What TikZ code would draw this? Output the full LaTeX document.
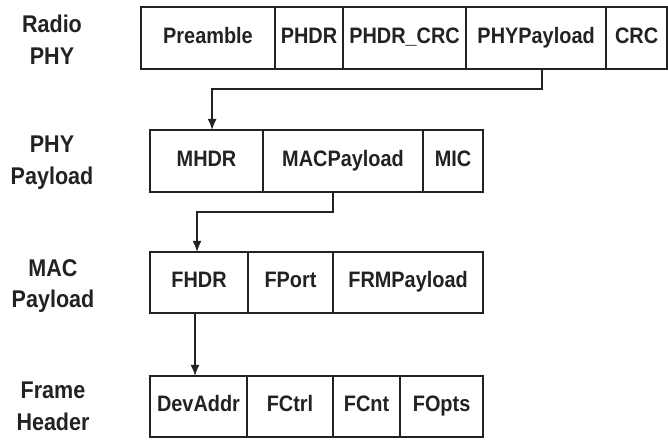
\documentclass[tikz,border=0pt]{standalone}
\usepackage{fontspec}
\setmainfont{Liberation Sans}[FakeStretch=0.89]
\usepackage{tikz}
\usetikzlibrary{arrows.meta,positioning,calc}
\definecolor{ink}{HTML}{222222}

\begin{document}
\begin{tikzpicture}[x=0.025cm, y=-0.025cm, >={Latex[length=8pt,width=6.5pt]}, ink, line width=1.2pt,
	cell/.style={draw=ink, minimum height=1.55cm, inner sep=0pt, outer sep=0pt, text=ink,
		text height=0.72em, text depth=0pt,
		font=\fontsize{15.9}{19}\selectfont\bfseries},
	layer/.style={align=center, text=ink, font=\fontsize{17.2}{22.5}\selectfont\bfseries},
	link/.style={draw=ink, line width=1.2pt, ->}]
	\useasboundingbox (0,0) rectangle (668,439);
	% radio phy frame
	\node[layer] at (52,40) (lradio) {Radio\\PHY};
	\node[cell, anchor=north west, minimum width=3.35cm] at (141,7) (pre) {Preamble};
	\node[cell, right=0pt of pre, minimum width=1.70cm] (phdr) {PHDR};
	\node[cell, right=0pt of phdr, minimum width=3.075cm] (phdrcrc) {PHDR\_CRC};
	\node[cell, right=0pt of phdrcrc, minimum width=3.50cm] (phypl) {PHYPayload};
	\node[cell, right=0pt of phypl, minimum width=1.525cm] (crc) {CRC};
	% phy payload
	\node[layer] at (52,163) (lphy) {PHY\\Payload};
	\node[cell, anchor=north west, minimum width=2.825cm] at (150,130) (mhdr) {MHDR};
	\node[cell, right=0pt of mhdr, minimum width=4.00cm] (macpl) {MACPayload};
	\node[cell, right=0pt of macpl, minimum width=1.50cm] (mic) {MIC};
	% mac payload
	\node[layer] at (53,286) (lmac) {MAC\\Payload};
	\node[cell, anchor=north west, minimum width=2.45cm, minimum height=1.525cm] at (150,252) (fhdr) {FHDR};
	\node[cell, right=0pt of fhdr, minimum width=2.125cm, minimum height=1.525cm] (fport) {FPort};
	\node[cell, right=0pt of fport, minimum width=3.75cm, minimum height=1.525cm] (frmpl) {FRMPayload};
	% frame header
	\node[layer] at (53,406) (lframe) {Frame\\Header};
	\node[cell, anchor=north west, minimum width=2.425cm, minimum height=1.525cm] at (150,376) (devaddr) {DevAddr};
	\node[cell, right=0pt of devaddr, minimum width=2.15cm, minimum height=1.525cm] (fctrl) {FCtrl};
	\node[cell, right=0pt of fctrl, minimum width=1.675cm, minimum height=1.525cm] (fcnt) {FCnt};
	\node[cell, right=0pt of fcnt, minimum width=2.075cm, minimum height=1.525cm] (fopts) {FOpts};
	% expansions
	\draw[link] ([xshift=0.15cm]phypl.south) -- ++(0,20) -| ([xshift=0.14cm]mhdr.north);
	\draw[link] ([xshift=-0.25cm]macpl.south) -- ++(0,20) -| ([xshift=-0.05cm]fhdr.north);
	\draw[link] ([xshift=-0.1cm]fhdr.south) -- ([xshift=-0.1cm]fhdr.south |- devaddr.north);
\end{tikzpicture}
\end{document}
